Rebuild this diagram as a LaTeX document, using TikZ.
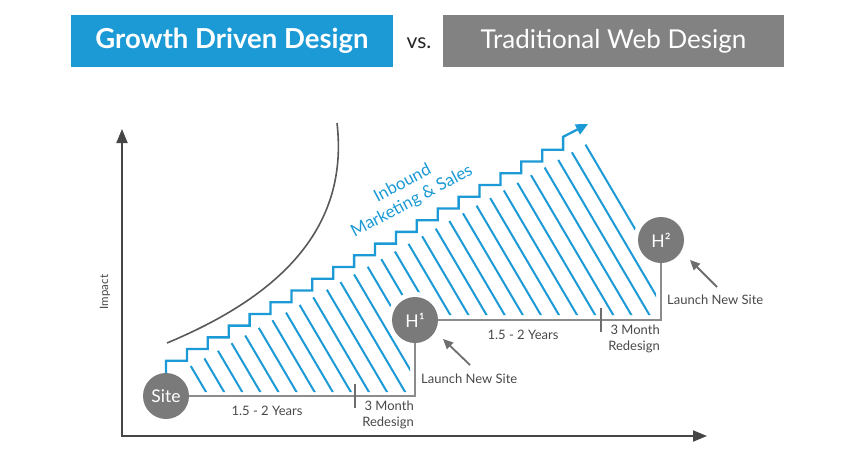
\documentclass[tikz,border=0pt]{standalone}
\usepackage{fontspec}
\setmainfont{Lato}
\usetikzlibrary{arrows.meta,backgrounds}
\definecolor{gddblue}{RGB}{27,154,214}
\definecolor{hdrgray}{RGB}{130,130,130}
\definecolor{circgray}{RGB}{122,122,122}
\definecolor{linegray}{RGB}{140,140,140}
\definecolor{axisgray}{RGB}{70,70,70}
\definecolor{txtgray}{RGB}{72,72,72}
\begin{document}
\begin{tikzpicture}[x=1pt,y=-1pt,
  hdrbox/.style={minimum height=52pt,inner sep=0pt,text=white},
  circ/.style={circle,fill=circgray,minimum size=46pt,inner sep=0pt,text=white,font=\fontsize{17.5}{17.5}\selectfont},
  lbl/.style={text=txtgray,font=\fontsize{13}{16}\selectfont,inner sep=0pt},
  axis/.style={draw=axisgray,line width=2pt},
  trad/.style={draw=linegray,line width=1.6pt},
  stair/.style={draw=gddblue,line width=2.3pt},
  hatchline/.style={draw=gddblue,line width=2pt},
  slanted/.style={text=gddblue,rotate=28,font=\fontsize{17}{21}\selectfont,inner sep=0pt},
  pointer/.style={draw=circgray!90!black,line width=1.8pt,-{Triangle[length=10pt,width=9pt]}}]
\useasboundingbox (0,0) rectangle (867,455);
% header
\node[hdrbox,fill=gddblue,minimum width=322pt,font=\fontsize{27.5}{30}\selectfont\bfseries] (gdd) at (232,41) {Growth Driven Design};
\node[text=black!85,font=\fontsize{21}{24}\selectfont] (vs) at (419,43) {vs.};
\node[hdrbox,fill=hdrgray,minimum width=341pt,font=\fontsize{26}{30}\selectfont] (twd) at (613.5,41) {Traditional Web Design};
% axes
\coordinate (ytip) at (122,129);
\coordinate (origin) at (122,436);
\coordinate (xtip) at (707,436);
\draw[axis,{Triangle[length=14pt,width=11pt]}-{Triangle[length=14pt,width=11pt]}] (ytip) -- (origin) -- (xtip);
\node[lbl,rotate=90,font=\fontsize{11.5}{12}\selectfont] (impact) at (105,292) {Impact};
% curve
\coordinate (cva) at (167,343);
\coordinate (cvb) at (337,123);
\draw[draw=axisgray!90,line width=1.6pt] (cva) .. controls (270,300) and (350,235) .. (cvb);
% circles
\node[circ] (site) at (166,396) {Site};
\node[circ] (h1) at (415,320) {H¹};
\node[circ] (h2) at (661,240) {H²};
% hatching under everything
\begin{pgfonlayer}{background}
\begin{scope}
\clip (150,392) -- (410,392) -- (410,315) -- (656,315) -- (656.5,250) -- (592.3,140.8) -- (150,388.9) -- cycle;
\foreach \i in {0,...,29}{
  \draw[hatchline] ({206+18.1*\i-230.5},0) -- ({206+18.1*\i+16.5},420);
}
\end{scope}
\fill[white] (site.center) circle[radius=28];
\fill[white] (h1.center) circle[radius=28];
\fill[white] (h2.center) circle[radius=28];
\end{pgfonlayer}
% traditional path
\coordinate (c1) at (415,396);
\coordinate (c2) at (661,320);
\draw[trad] (site) -- (c1) -- (h1);
\draw[trad] (h1) -- (c2) -- (h2);
% ticks
\coordinate (t1a) at (355,384);
\coordinate (t1b) at (355,408);
\coordinate (t2a) at (601,308);
\coordinate (t2b) at (601,332);
\draw[trad,line width=1.4pt,draw=txtgray!80] (t1a) -- (t1b);
\draw[trad,line width=1.4pt,draw=txtgray!80] (t2a) -- (t2b);
% growth driven stairs
\coordinate (gtip) at (588,124);
\draw[stair,-{Triangle[length=12pt,width=11pt]}] (site.north) -- ++(0,-12)
  \foreach \k in {1,...,18}{ -- ++(20.9,0) -- ++(0,-11.72) }
  -- ++(20.9,0) -- ++(0,-13) -- (gtip);
\node[slanted] (inb1) at (402,182.5) {Inbound};
\node[slanted] (inb2) at (412,201.5) {Marketing \& Sales};
% labels
\node[lbl] (y1) at (267,411) {1.5 - 2 Years};
\node[lbl] (y2) at (523,335) {1.5 - 2 Years};
\node[lbl,align=right,anchor=east] (r1) at (414,415) {3 Month\\Redesign};
\node[lbl,align=right,anchor=east] (r2) at (660,339) {3 Month\\Redesign};
\node[lbl,anchor=west] (l1) at (421,379) {Launch New Site};
\node[lbl,anchor=west] (l2) at (667,300) {Launch New Site};
\coordinate (a1s) at (470,365);
\coordinate (a1e) at (443,339);
\coordinate (a2s) at (717,287);
\coordinate (a2e) at (690,260);
\draw[pointer] (a1s) -- (a1e);
\draw[pointer] (a2s) -- (a2e);
\end{tikzpicture}
\end{document}
